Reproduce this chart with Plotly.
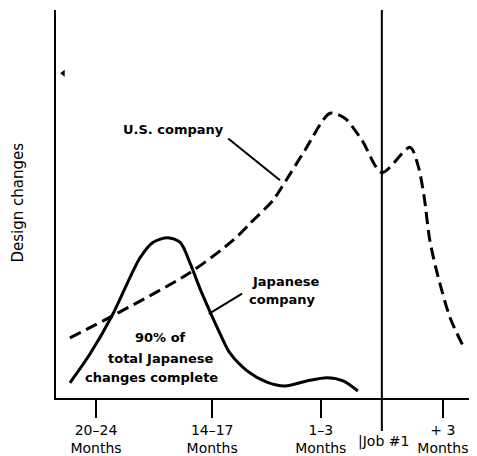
import plotly.graph_objects as go

# Timeline positions (arbitrary units along the horizontal axis)
tick_pos = [9.5, 37.1, 62.9, 91.9]
tick_labels = ["20–24<br>Months", "14–17<br>Months", "1–3<br>Months", "+ 3<br>Months"]
job1_pos = 77.4

# U.S. company design changes (relative units)
us_x = [3.3, 13.5, 31.8, 42.0, 46.1, 51.5, 53.9, 59.1, 65.1, 68.6, 72.7, 77.4, 84.1, 86.0, 87.4, 88.8, 90.7, 93.6, 96.7]
us_y = [15.5, 21.2, 32.3, 40.6, 45.0, 50.9, 54.8, 63.8, 73.4, 72.1, 66.4, 58.1, 64.6, 59.9, 52.2, 40.6, 31.5, 20.7, 13.4]

# Japanese company design changes (relative units)
jp_x = [3.3, 8.1, 13.3, 16.9, 20.0, 23.0, 26.6, 29.5, 31.8, 34.2, 36.6, 39.0, 41.3, 45.4, 50.1, 54.4, 59.6, 64.4, 68.2, 71.7]
jp_y = [3.9, 11.4, 21.2, 29.5, 36.2, 40.1, 41.3, 40.1, 34.9, 28.2, 22.2, 16.5, 11.6, 7.0, 4.1, 3.1, 4.4, 5.2, 4.4, 1.8]

# stray mark on the original figure
mark_x = [1.7]
mark_y = [83.7]

FONT = "DejaVu Sans"

fig = go.Figure()
fig.add_trace(go.Scatter(x=us_x, y=us_y, mode="lines",
                         line=dict(color="black", width=3, dash="12px,6px", shape="spline", smoothing=0.8),
                         hoverinfo="skip", showlegend=False))
fig.add_trace(go.Scatter(x=jp_x, y=jp_y, mode="lines",
                         line=dict(color="black", width=3, shape="spline", smoothing=0.8),
                         hoverinfo="skip", showlegend=False))
fig.add_trace(go.Scatter(x=mark_x, y=mark_y, mode="markers",
                         marker=dict(symbol="triangle-left", size=6, color="black"),
                         hoverinfo="skip", showlegend=False))

# Job #1 vertical line
fig.add_shape(type="line", xref="x", yref="paper", x0=job1_pos, x1=job1_pos, y0=-0.085, y1=1,
              line=dict(color="black", width=2))

# leader lines
fig.add_shape(type="line", xref="x", yref="y", x0=40.9, y0=66.9, x1=53.2, y1=56.1,
              line=dict(color="black", width=2))
fig.add_shape(type="line", xref="x", yref="y", x0=44.2, y0=26.9, x1=36.3, y1=21.7,
              line=dict(color="black", width=2))

bold = dict(family=FONT, size=13, color="black", weight=700)
anns = [
    dict(x=28.0, y=69.3, text="U.S. company"),
    dict(x=54.4, y=30.0, text="Japanese"),
    dict(x=53.9, y=25.3, text="company"),
    dict(x=24.9, y=15.5, text="90% of"),
    dict(x=24.9, y=10.3, text="total Japanese"),
    dict(x=22.8, y=5.4, text="changes complete"),
]
for a in anns:
    fig.add_annotation(x=a["x"], y=a["y"], xref="x", yref="y", text=a["text"],
                       showarrow=False, font=bold, xanchor="center", yanchor="middle")

fig.add_annotation(x=job1_pos + 0.3, y=-0.111, xref="x", yref="paper", text="|Job #1",
                   showarrow=False, font=dict(family=FONT, size=14, color="black"),
                   xanchor="center", yanchor="middle")
fig.add_annotation(x=-0.09, y=0.504, xref="paper", yref="paper", text="Design changes",
                   textangle=-90, showarrow=False, font=dict(family=FONT, size=15, color="black"),
                   xanchor="center", yanchor="middle")

fig.update_xaxes(range=[0, 100], tickvals=tick_pos, ticktext=tick_labels,
                 ticks="outside", ticklen=18, tickwidth=2, tickcolor="black",
                 showline=True, linecolor="black", linewidth=2, showgrid=False, zeroline=False,
                 tickfont=dict(family=FONT, size=14, color="black"), fixedrange=True)
fig.update_yaxes(range=[0, 100], showticklabels=False, ticks="",
                 showline=True, linecolor="black", linewidth=2, showgrid=False, zeroline=False,
                 fixedrange=True)

# the page adds an 8px body margin, so the figure is sized to fit inside the window
fig.update_layout(width=469, height=448, autosize=False,
                  margin=dict(l=48, r=0, t=2, b=51),
                  plot_bgcolor="white", paper_bgcolor="white",
                  font=dict(family=FONT, color="black"))

fig.write_html("out.html", config={"displayModeBar": False})
